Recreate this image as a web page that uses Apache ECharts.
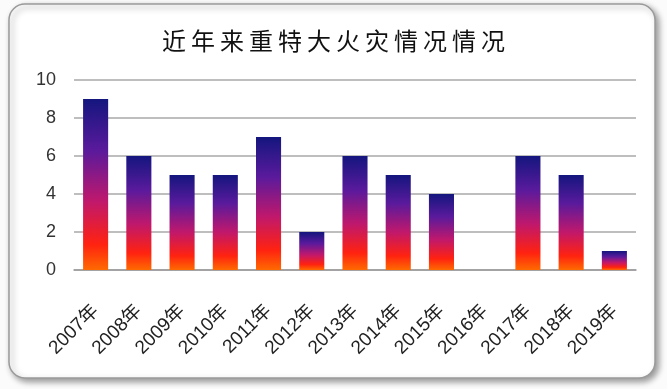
<!DOCTYPE html>
<html><head><meta charset="utf-8">
<script src="https://cdn.jsdelivr.net/npm/echarts@6/dist/echarts.min.js"></script>
<style>html,body{margin:0;padding:0;background:#fff}#c{width:667px;height:389px}</style>
</head><body><div id="c"></div>
<script>
const titleText = '近年来重特大火灾情况情况';
const categories = ['2007年','2008年','2009年','2010年','2011年','2012年','2013年','2014年','2015年','2016年','2017年','2018年','2019年'];
const fires = [9, 6, 5, 5, 7, 2, 6, 5, 4, 0, 6, 5, 1];
const yTicks = [0, 2, 4, 6, 8, 10];

const chart = echarts.init(document.getElementById('c'));
chart.setOption({
  backgroundColor: '#fbfbfb',
  animation: false,
  graphic: [{
    type: 'rect', z: -10, silent: true,
    shape: { x: 9, y: 4, width: 646, height: 374, r: 16 },
    style: { fill: '#ffffff', stroke: '#9a9a9a', lineWidth: 1.5,
      shadowBlur: 6, shadowOffsetX: 3, shadowOffsetY: 3, shadowColor: 'rgba(0,0,0,0.4)' }
  }],
  title: {
    text: titleText.split('').map(ch => '{c|' + ch + '}').join(''),
    left: 'center', top: 24,
    textStyle: {
      rich: { c: { fontFamily: 'Noto Sans CJK SC', fontSize: 24, fontWeight: 'normal', color: '#111', padding: [0, 2.5] } }
    }
  },
  grid: { left: 74, right: 31, top: 80, bottom: 119 },
  xAxis: {
    type: 'category', data: categories,
    axisLine: { lineStyle: { color: '#9a9a9a', width: 1.5 } },
    axisTick: { show: false },
    axisLabel: { rotate: 45, interval: 0, margin: 38, fontSize: 19, color: '#222', fontFamily: 'Liberation Sans, Noto Sans CJK SC' }
  },
  yAxis: {
    type: 'value', min: 0, max: 10, interval: 2,
    axisLine: { show: false }, axisTick: { show: false },
    splitLine: { lineStyle: { color: '#a8a8a8', width: 1.5 } },
    axisLabel: { margin: 18, fontSize: 18, color: '#333', fontFamily: 'Liberation Sans',
      formatter: v => yTicks.includes(v) ? String(v) : '' }
  },
  series: [{
    type: 'bar', data: fires, barWidth: '58%',
    itemStyle: {
      color: new echarts.graphic.LinearGradient(0, 0, 0, 1, [
        { offset: 0, color: '#14167e' },
        { offset: 0.3, color: '#5a1a9c' },
        { offset: 0.6, color: '#c0186c' },
        { offset: 0.85, color: '#ff2210' },
        { offset: 1, color: '#ff6a00' }
      ])
    }
  }]
});
</script></body></html>
